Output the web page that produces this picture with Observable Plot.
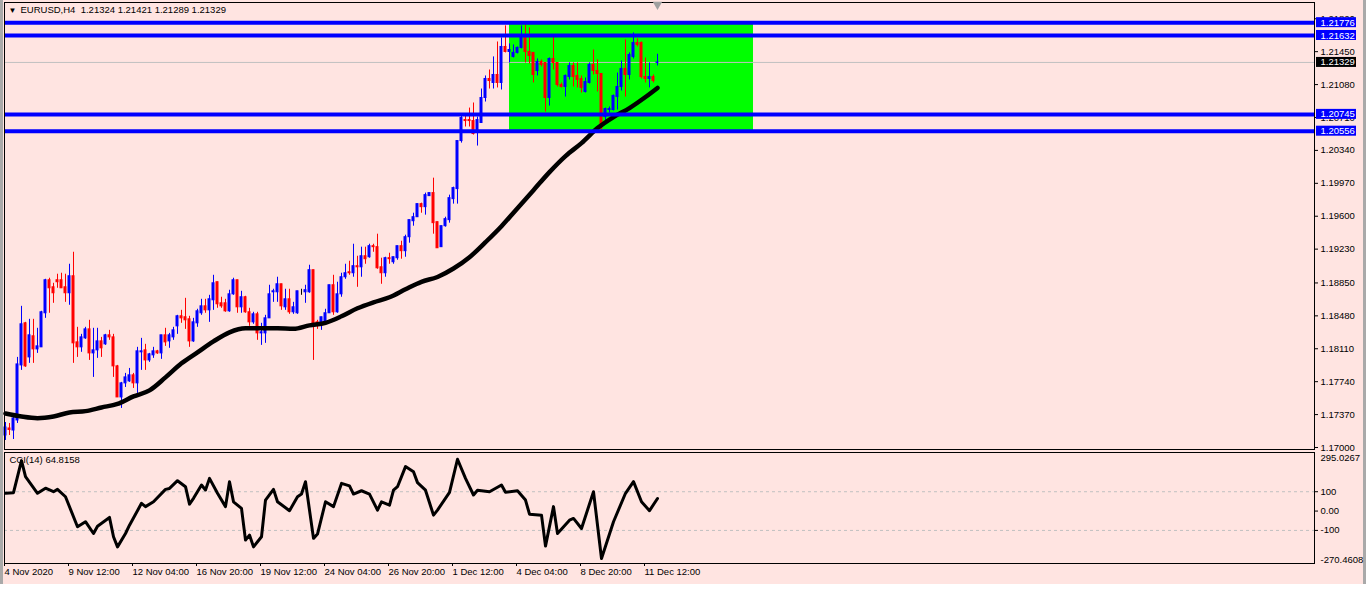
<!DOCTYPE html>
<html><head><meta charset="utf-8">
<script src="https://cdn.jsdelivr.net/npm/d3@7"></script>
<script src="https://cdn.jsdelivr.net/npm/@observablehq/plot@0.6"></script>
<style>
html,body{margin:0;padding:0;background:#fff;}
#wrap{position:relative;width:1366px;height:602px;overflow:hidden;background:#fff;}
#bg{position:absolute;left:0;top:0;width:1366px;height:584px;background:#ffe4e1;}
#lstrip{position:absolute;left:0;top:0;width:3px;height:584px;background:#a9a9a9;}
#rstrip{position:absolute;left:1363px;top:0;width:3px;height:584px;background:#a9a9a9;}
#main,#ind{position:absolute;left:0;}
#main{top:0}
#ind{top:450px}
svg text{white-space:pre}
</style></head><body>
<div id="wrap"><div id="bg"></div><div id="lstrip"></div><div id="rstrip"></div><div id="main"></div><div id="ind"></div></div>
<script>
// ---------- DATA ----------
const symbol = "EURUSD";
const timeframe = "H4";
const open = [1.17135,1.17214,1.17191,1.17304,1.17923,1.18396,1.18013,1.18250,1.18103,1.18126,1.18509,1.18880,1.18801,1.18880,1.18880,1.18801,1.18734,1.18925,1.18182,1.18126,
1.18227,1.18328,1.18058,1.18092,1.18193,1.18160,1.18261,1.18238,1.17912,1.17563,1.17721,1.17743,1.17811,1.17721,1.18070,1.18092,1.17979,1.18036,1.18081,1.18058,
1.18261,1.18193,1.18238,1.18362,1.18475,1.18464,1.18441,1.18193,1.18396,1.18509,1.18587,1.18542,1.18655,1.18858,1.18621,1.18621,1.18531,1.18722,1.18880,1.18576,
1.18689,1.18520,1.18407,1.18497,1.18283,1.18283,1.18452,1.18745,1.18745,1.18835,1.18576,1.18666,1.18520,1.18509,1.18756,1.18745,1.18745,1.18993,1.18407,1.18396,
1.18407,1.18509,1.18824,1.18520,1.18722,1.18914,1.18970,1.18959,1.19038,1.19026,1.19150,1.19139,1.19263,1.19252,1.19026,1.18959,1.19128,1.19083,1.19128,1.19263,
1.19207,1.19364,1.19544,1.19589,1.19736,1.19702,1.19826,1.19860,1.19533,1.19252,1.19488,1.19556,1.19792,1.19905,1.20445,1.20681,1.20681,1.20670,1.20535,1.20648,
1.20929,1.21143,1.21098,1.21188,1.21098,1.21503,1.21447,1.21391,1.21436,1.21492,1.21616,1.21447,1.21436,1.21233,1.21334,1.21323,1.20929,1.21368,1.21323,1.21075,
1.21053,1.21165,1.21289,1.21177,1.21143,1.20997,1.21098,1.21301,1.21233,1.21199,1.20715,1.20794,1.20794,1.20940,1.21053,1.21256,1.21188,1.21391,1.21548,1.21548,
1.21165,1.21143,1.21165,1.21324];
const high = [1.17281,1.17270,1.17360,1.18013,1.18587,1.18407,1.18441,1.18441,1.18340,1.18531,1.18891,1.18903,1.18846,1.18948,1.18959,1.18948,1.19060,1.19195,1.18351,1.18272,
1.18351,1.18430,1.18340,1.18340,1.18238,1.18272,1.18317,1.18272,1.17923,1.17732,1.17833,1.17889,1.17833,1.18126,1.18227,1.18160,1.18058,1.18126,1.18092,1.18261,
1.18340,1.18283,1.18351,1.18486,1.18542,1.18677,1.18475,1.18452,1.18554,1.18666,1.18666,1.18711,1.18936,1.18858,1.18689,1.18666,1.18768,1.18903,1.18880,1.18756,
1.18700,1.18565,1.18520,1.18520,1.18396,1.18486,1.18824,1.18779,1.18914,1.18835,1.18779,1.18779,1.18632,1.18756,1.18779,1.18824,1.19049,1.18993,1.18430,1.18464,
1.18554,1.18824,1.18936,1.18858,1.18959,1.19060,1.19094,1.19285,1.19150,1.19252,1.19252,1.19285,1.19285,1.19398,1.19128,1.19139,1.19184,1.19139,1.19263,1.19319,
1.19387,1.19556,1.19634,1.19736,1.19747,1.19860,1.19860,1.20028,1.19533,1.19488,1.19589,1.19837,1.19927,1.20445,1.20726,1.20738,1.20816,1.20873,1.20715,1.21030,
1.21177,1.21244,1.21391,1.21559,1.21605,1.21740,1.21537,1.21526,1.21503,1.21740,1.21751,1.21717,1.21436,1.21368,1.21357,1.21323,1.21379,1.21616,1.21323,1.21098,
1.21188,1.21323,1.21323,1.21323,1.21177,1.21154,1.21323,1.21469,1.21357,1.21199,1.20816,1.20828,1.20963,1.21210,1.21346,1.21582,1.21436,1.21661,1.21593,1.21559,
1.21379,1.21323,1.21188,1.21421];
const low = [1.17079,1.17135,1.17090,1.17270,1.17867,1.17901,1.17946,1.17946,1.18058,1.18126,1.18452,1.18509,1.18621,1.18790,1.18790,1.18632,1.18599,1.17946,1.18013,1.18070,
1.18216,1.17979,1.17788,1.18002,1.18013,1.18148,1.18205,1.17788,1.17563,1.17439,1.17675,1.17732,1.17664,1.17608,1.17867,1.17867,1.17957,1.18002,1.18047,1.17991,
1.18137,1.18115,1.18205,1.18272,1.18396,1.18328,1.18126,1.18182,1.18351,1.18486,1.18509,1.18407,1.18542,1.18565,1.18565,1.18520,1.18520,1.18711,1.18509,1.18509,
1.18509,1.18362,1.18385,1.18205,1.18148,1.18171,1.18452,1.18632,1.18632,1.18542,1.18542,1.18497,1.18497,1.18497,1.18711,1.18621,1.18734,1.17979,1.18328,1.18317,
1.18396,1.18509,1.18486,1.18509,1.18689,1.18891,1.18936,1.18914,1.18801,1.18914,1.19060,1.19128,1.19195,1.19004,1.18835,1.18914,1.19060,1.19060,1.19105,1.19117,
1.19139,1.19297,1.19488,1.19589,1.19634,1.19612,1.19826,1.19398,1.19240,1.19252,1.19477,1.19522,1.19736,1.19736,1.20422,1.20603,1.20603,1.20513,1.20389,1.20648,
1.20884,1.21030,1.21030,1.21042,1.21019,1.21436,1.21323,1.21379,1.21424,1.21481,1.21323,1.21312,1.21098,1.21177,1.21278,1.20771,1.20839,1.21244,1.21053,1.21042,
1.20940,1.21132,1.21053,1.21042,1.20985,1.20985,1.21087,1.21188,1.20997,1.20569,1.20648,1.20760,1.20783,1.20794,1.21008,1.20940,1.21132,1.21368,1.21503,1.21143,
1.21098,1.21042,1.21098,1.21289];
const close = [1.17225,1.17197,1.17326,1.17934,1.18385,1.17912,1.18261,1.18103,1.18137,1.18520,1.18880,1.18790,1.18734,1.18858,1.18790,1.18734,1.18925,1.18171,1.18126,1.18238,
1.18328,1.18058,1.18092,1.18193,1.18115,1.18261,1.18238,1.17912,1.17563,1.17721,1.17788,1.17811,1.17721,1.18081,1.18081,1.17979,1.18047,1.18081,1.18058,1.18261,
1.18182,1.18261,1.18317,1.18475,1.18452,1.18430,1.18193,1.18407,1.18531,1.18587,1.18542,1.18666,1.18846,1.18610,1.18587,1.18531,1.18722,1.18880,1.18576,1.18689,
1.18520,1.18407,1.18497,1.18283,1.18295,1.18452,1.18722,1.18756,1.18835,1.18587,1.18666,1.18520,1.18576,1.18756,1.18756,1.18768,1.18993,1.18396,1.18396,1.18464,
1.18509,1.18824,1.18520,1.18722,1.18914,1.18959,1.18959,1.19038,1.19026,1.19150,1.19117,1.19263,1.19252,1.19015,1.18959,1.19128,1.19117,1.19139,1.19263,1.19207,
1.19364,1.19556,1.19589,1.19736,1.19702,1.19837,1.19860,1.19522,1.19240,1.19488,1.19567,1.19803,1.19916,1.20445,1.20704,1.20670,1.20670,1.20524,1.20681,1.20929,
1.21143,1.21120,1.21188,1.21098,1.21503,1.21447,1.21469,1.21436,1.21492,1.21616,1.21447,1.21402,1.21188,1.21334,1.21301,1.20929,1.21368,1.21323,1.21075,1.21053,
1.21177,1.21289,1.21165,1.21132,1.21042,1.21109,1.21301,1.21233,1.21199,1.20591,1.20805,1.20805,1.20952,1.21053,1.21256,1.21188,1.21413,1.21548,1.21526,1.21165,
1.21143,1.21165,1.21120,1.21329];

// moving average
const maIdx = [0,4,8,12,16,20,24,28,32,36,40,44,48,52,56,60,64,68,72,76,80,84,88,92,96,100,104,108,112,116,120,124,128,132,136,140,144,148,152,156,160,163];
const maVal = [1.17383,1.17349,1.17330,1.17349,1.17394,1.17409,1.17450,1.17490,1.17574,1.17642,1.17788,1.17946,1.18070,1.18193,1.18295,1.18340,1.18340,1.18340,1.18334,1.18373,
1.18402,1.18475,1.18565,1.18632,1.18689,1.18779,1.18863,1.18917,1.19012,1.19139,1.19308,1.19488,1.19691,1.19893,1.20096,1.20276,1.20422,1.20591,1.20715,1.20816,1.20940,1.21042];

// CCI(14)
const cciIdx = [0,2,4,5,8,10,12,13,15,18,20,22,23,26,27,28,30,31,34,35,37,40,41,43,45,46,47,49,50,51,53,55,56,57,59,60,61,62,64,65,67,68,71,73,74,75,76,77,78,80,82,84,86,87,89,91,93,94,96,97,98,100,102,103,105,107,108,111,113,115,117,118,121,124,125,128,130,131,134,135,137,138,141,142,144,147,149,152,155,157,159,161,163];
const cciVal = [92,95,261,178,92,118,100,112,74,-81,-55,-116,-78,-33,-133,-185,-116,-73,40,23,48,112,117,157,126,36,66,135,109,169,92,23,152,48,14,-150,-124,-185,-133,57,112,48,2,74,88,152,5,-141,-119,48,23,143,130,88,105,88,5,48,31,108,126,230,203,147,108,-21,5,97,268,169,83,108,100,135,97,105,57,-16,-21,-181,23,-116,-47,-38,-90,100,-245,-55,92,152,48,2,64.8158];
const cciName = "CCI(14)";
const cciMax = 295.0267, cciMin = -270.4608;
const cciLevels = [100, -100];
const cciTicks = [100, 0, -100];

// horizontal levels & zone
const levels = [1.21776, 1.21632, 1.20745, 1.20556];
const bidPrice = 1.21329;
const zoneStart = 126, zoneEnd = 187, zoneLow = 1.20556, zoneHigh = 1.21776;

// axis ticks
const priceTicks = [1.17000,1.17370,1.17740,1.18110,1.18480,1.18850,1.19230,1.19600,1.19970,1.20340,1.20710,1.21080,1.21450,1.21820];
const timeIdx = [0,16,32,48,64,80,96,112,128,144,160];
const timeLabels = ["4 Nov 2020","9 Nov 12:00","12 Nov 04:00","16 Nov 20:00","19 Nov 12:00","24 Nov 04:00","26 Nov 20:00","1 Dec 12:00","4 Dec 04:00","8 Dec 20:00","11 Dec 12:00"];

// ---------- BUILD ----------
const fmt5 = d3.format(".5f");
const candles = open.map((o, i) => ({
  i, o, h: high[i], l: low[i], c: close[i],
  col: close[i] > o ? "#0000ff" : close[i] < o ? "#ff0000" : "#000000"
}));
const ma = maIdx.map((i, k) => ({i, v: maVal[k]}));
const cci = cciIdx.map((i, k) => ({i, v: cciVal[k]}));
const zone = [{x1: zoneStart, x2: zoneEnd, y1: zoneLow, y2: zoneHigh}];
const last = candles[candles.length - 1];
const titleText = `${symbol},${timeframe}\u00a0\u00a0${fmt5(last.o)} ${fmt5(last.h)} ${fmt5(last.l)} ${fmt5(last.c)}`;
const labelMap = new Map(timeIdx.map((d, k) => [d, timeLabels[k]]));

const xDomain = [-0.25, 327.25];
const xMax = xDomain[1];
const font = "'Liberation Sans', Arial, sans-serif";
const baseStyle = {background: "transparent", fontFamily: font, fontSize: "9.5px", color: "#000", overflow: "visible"};

const main = Plot.plot({
  width: 1366, height: 452,
  marginLeft: 4, marginRight: 52, marginTop: 2, marginBottom: 3,
  style: baseStyle,
  x: {domain: xDomain, axis: null},
  y: {domain: [1.169775, 1.220028], axis: null},
  color: {type: "identity"},
  marks: [
    Plot.rect(zone, {x1: "x1", x2: "x2", y1: "y1", y2: "y2", fill: "#00ff00"}),
    Plot.ruleY([bidPrice], {stroke: "#c0c0c0", strokeWidth: 1}),
    Plot.ruleX(candles, {x: "i", y1: "l", y2: "h", stroke: "col", strokeWidth: 1}),
    Plot.rect(candles, {x1: d => d.i - 0.25, x2: d => d.i + 0.25, y1: "o", y2: "c", fill: "col", stroke: "col", strokeWidth: 1}),
    Plot.line(ma, {x: "i", y: "v", stroke: "#000", strokeWidth: 4.5, curve: "monotone-x"}),
    Plot.ruleY(levels, {stroke: "#0000ff", strokeWidth: 4}),
    Plot.frame({stroke: "#000", strokeWidth: 1}),
    Plot.axisY({anchor: "right", ticks: priceTicks, tickFormat: fmt5, tickSize: 3, tickPadding: 3, label: null, fill: "#000"}),
    Plot.rect(levels, {x1: () => xMax, x2: () => xMax, y1: d => d, y2: d => d, fill: "#0000ff", insetLeft: 2, insetRight: -42, insetTop: -5, insetBottom: -5}),
    Plot.text(levels, {x: () => xMax, y: d => d, text: d => fmt5(d), textAnchor: "start", dx: 6, fill: "#ffffff"}),
    Plot.rect([bidPrice], {x1: () => xMax, x2: () => xMax, y1: d => d, y2: d => d, fill: "#000000", insetLeft: 2, insetRight: -42, insetTop: -5, insetBottom: -5}),
    Plot.text([bidPrice], {x: () => xMax, y: d => d, text: d => fmt5(d), textAnchor: "start", dx: 6, fill: "#ffffff"}),
    Plot.text(["\u25BC"], {frameAnchor: "top-left", dx: 4, dy: 5, lineAnchor: "top", textAnchor: "start", fontSize: 8, fill: "#000"}),
    Plot.text([titleText], {frameAnchor: "top-left", dx: 16, dy: 4, lineAnchor: "top", textAnchor: "start", fill: "#000"}),
    Plot.dot([candles.length - 1], {x: d => d, frameAnchor: "top", dy: 2, symbol: "triangle", rotate: 180, r: 3.5, fill: "#a0a0a0", stroke: "none"})
  ]
});
document.getElementById("main").appendChild(main);

const ind = Plot.plot({
  width: 1366, height: 134,
  marginLeft: 4, marginRight: 52, marginTop: 2, marginBottom: 21,
  style: baseStyle,
  x: {domain: xDomain, axis: null},
  y: {domain: [-271, 302.78], axis: null},
  marks: [
    Plot.ruleY(cciLevels, {stroke: "#c0c0c0", strokeDasharray: "3,3", strokeWidth: 1}),
    Plot.line(cci, {x: "i", y: "v", stroke: "#000", strokeWidth: 3}),
    Plot.frame({stroke: "#000", strokeWidth: 1}),
    Plot.axisY({anchor: "right", ticks: cciTicks, tickFormat: d => d === 0 ? "0.00" : String(d), tickSize: 3, tickPadding: 3, label: null, fill: "#000"}),
    Plot.text([cciMax], {x: () => xMax, y: d => d, text: d => d.toFixed(4), textAnchor: "start", dx: 6, lineAnchor: "top", fill: "#000"}),
    Plot.text([cciMin], {x: () => xMax, y: d => d, text: d => d.toFixed(4), textAnchor: "start", dx: 6, lineAnchor: "bottom", fill: "#000"}),
    Plot.text([`${cciName} ${cciVal[cciVal.length - 1].toFixed(4)}`], {frameAnchor: "top-left", dx: 5, dy: 4, lineAnchor: "top", textAnchor: "start", fill: "#000"}),
    Plot.axisX({anchor: "bottom", ticks: timeIdx, tickFormat: d => labelMap.get(d), tickSize: 3, tickPadding: 2, textAnchor: "start", dx: -1, label: null, fill: "#000"})
  ]
});
document.getElementById("ind").appendChild(ind);
</script></body></html>
